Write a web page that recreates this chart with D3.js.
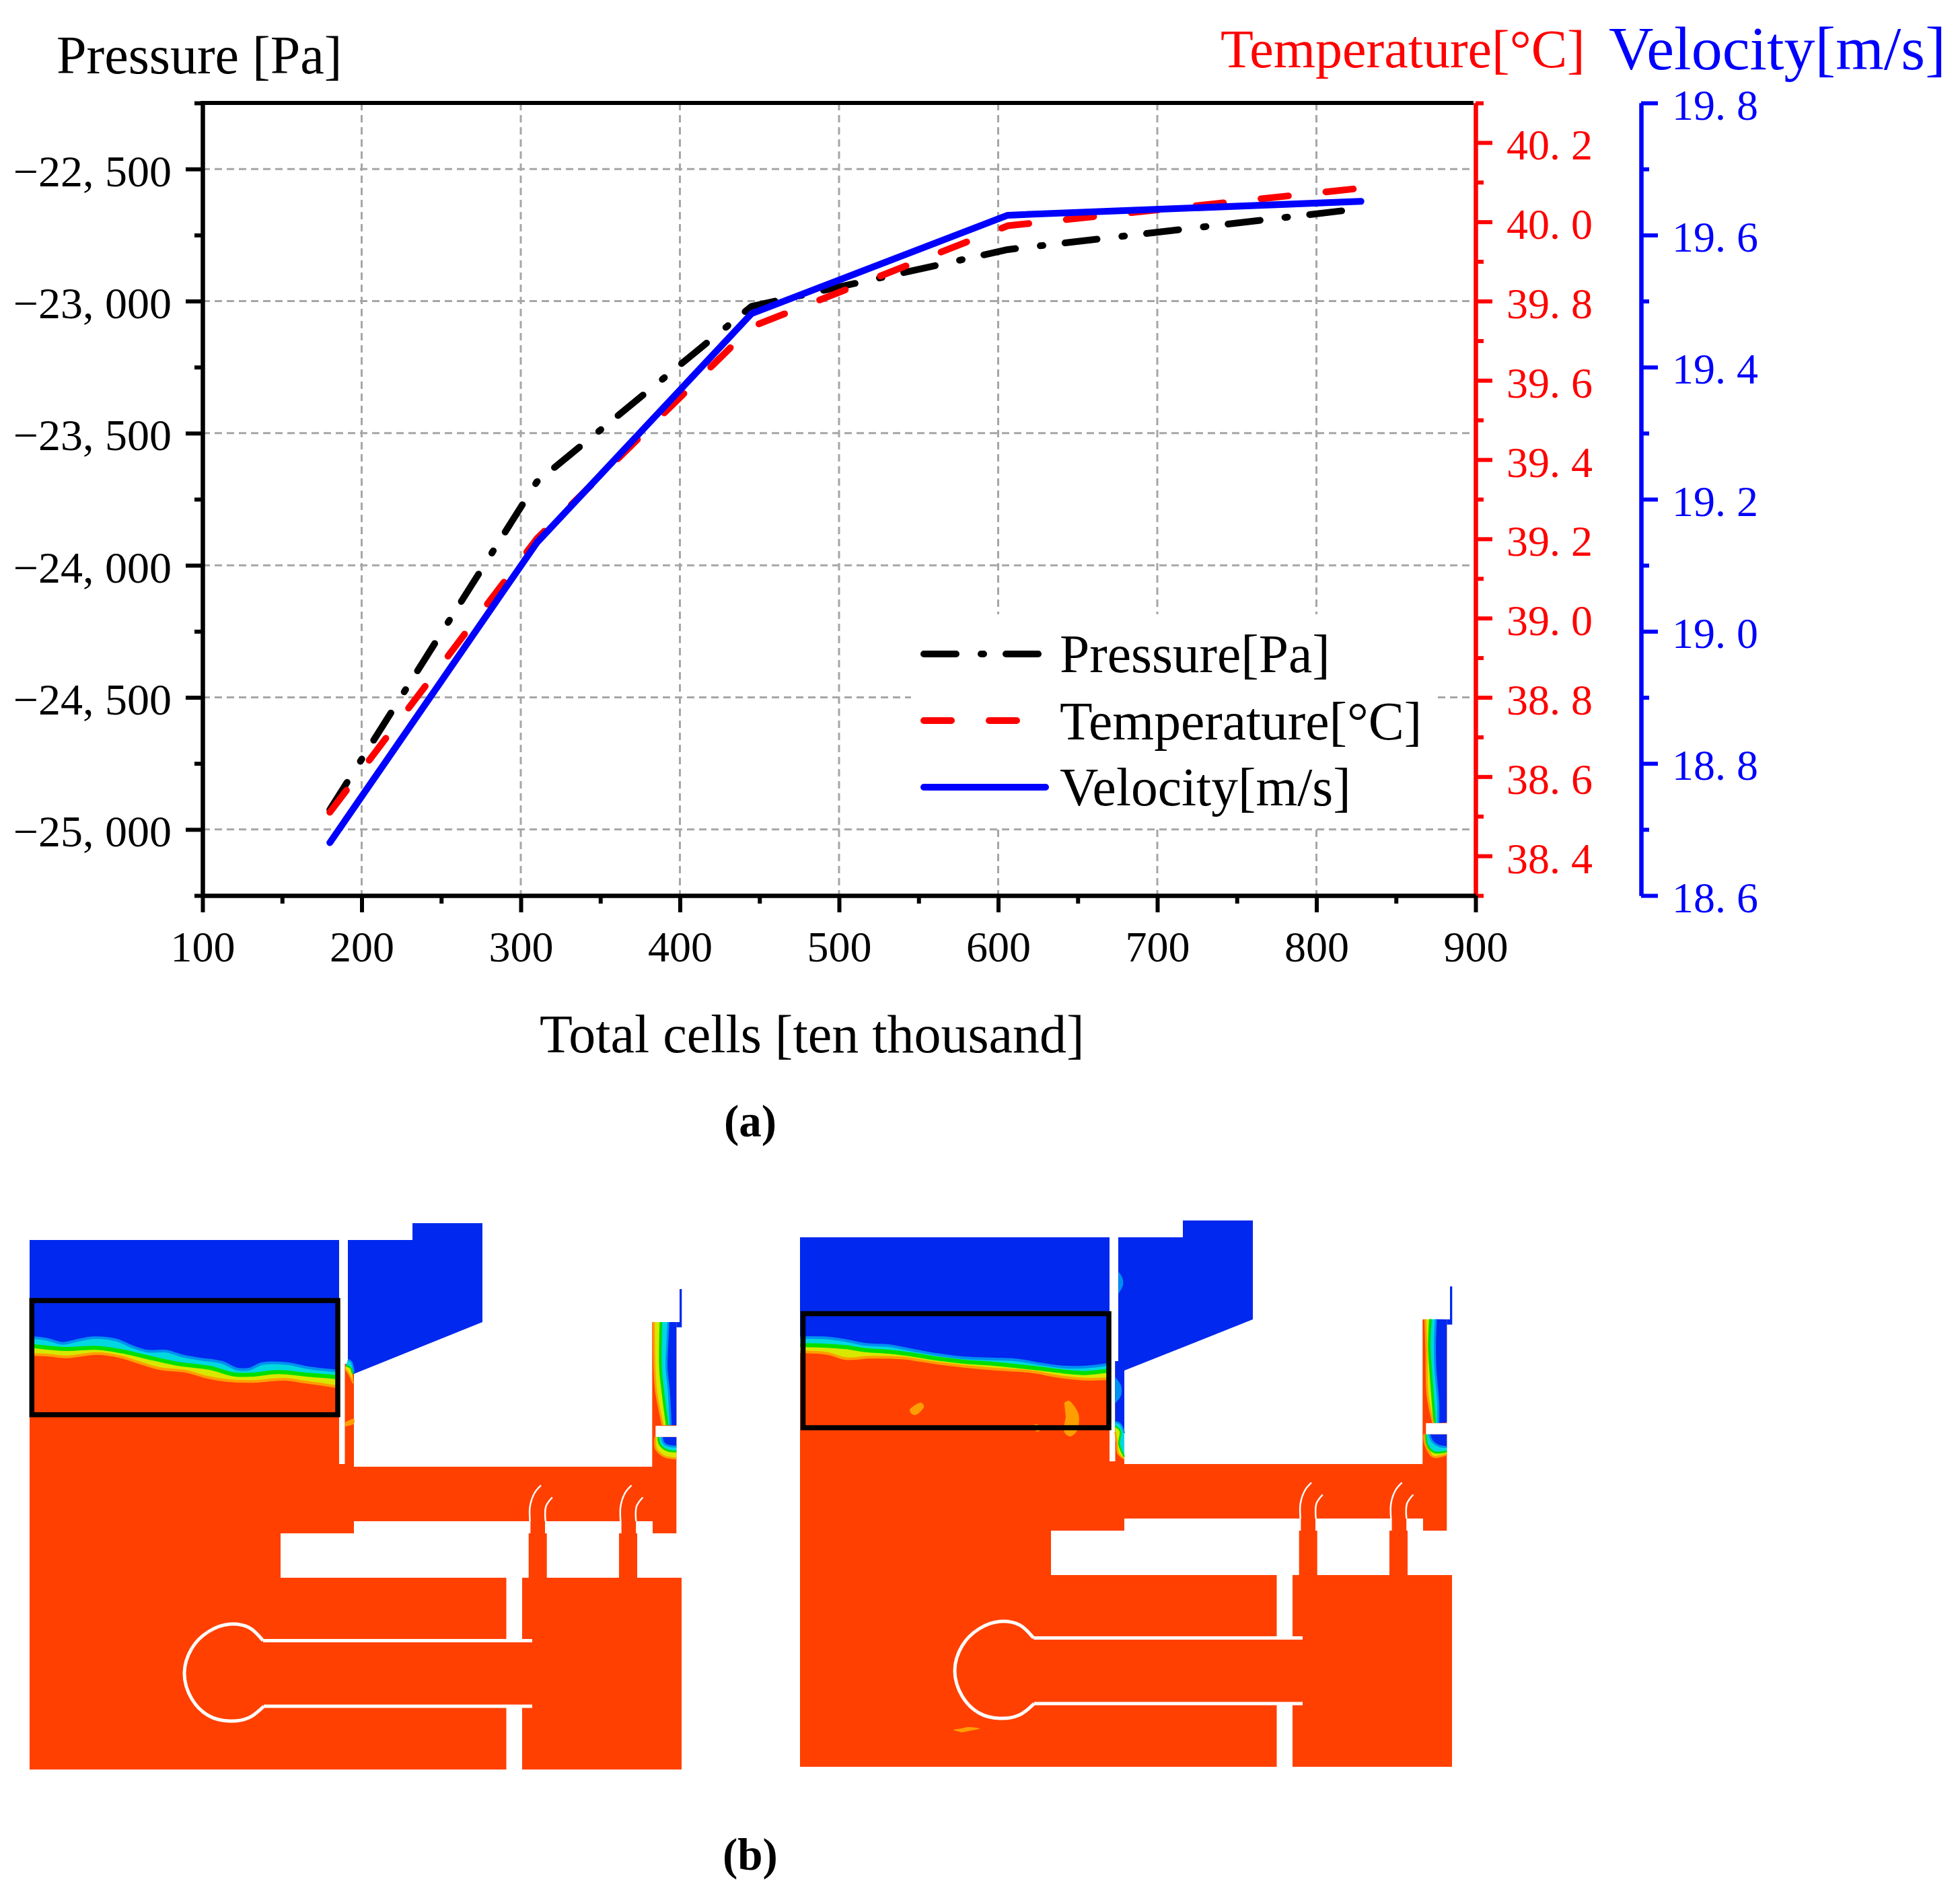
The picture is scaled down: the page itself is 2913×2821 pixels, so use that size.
<!DOCTYPE html>
<html>
<head>
<meta charset="utf-8">
<script src="https://cdnjs.cloudflare.com/ajax/libs/d3/7.8.5/d3.min.js"></script>
<style>
  html, body { margin: 0; background: #fff; }
  svg { display: block; }
  text { font-family: "Liberation Serif", serif; }
</style>
</head>
<body>
<div id="figure"></div>
<script>
// chart (a) values
var cells = [180, 310, 445, 606, 828];
var pressure = [-24925, -23685, -23020, -22805, -22650];
var temperature = [38.51, 39.2, 39.735, 39.99, 40.085];
var velocity = [18.68, 19.134, 19.481, 19.63, 19.651];

var cellTicks = [100, 200, 300, 400, 500, 600, 700, 800, 900];
var cellMinor = [150, 250, 350, 450, 550, 650, 750, 850];
var pressureTicks = [-25000, -24500, -24000, -23500, -23000, -22500];
var pressureLabels = ["\u221225, 000", "\u221224, 500", "\u221224, 000", "\u221223, 500", "\u221223, 000", "\u221222, 500"];
var pressureMinor = [-25250, -24750, -24250, -23750, -23250, -22750, -22250];
var tempTicks = [38.4, 38.6, 38.8, 39.0, 39.2, 39.4, 39.6, 39.8, 40.0, 40.2];
var tempLabels = ["38. 4", "38. 6", "38. 8", "39. 0", "39. 2", "39. 4", "39. 6", "39. 8", "40. 0", "40. 2"];
var tempMinor = [38.3, 38.5, 38.7, 38.9, 39.1, 39.3, 39.5, 39.7, 39.9, 40.1, 40.3];
var velTicks = [18.6, 18.8, 19.0, 19.2, 19.4, 19.6, 19.8];
var velLabels = ["18. 6", "18. 8", "19. 0", "19. 2", "19. 4", "19. 6", "19. 8"];
var velMinor = [18.7, 18.9, 19.1, 19.3, 19.5, 19.7];

// contour panels (b), outlines in panel units
var fluidOutline = [[0,25],[460,25],[460,358],[468.5,358],[468.5,209],[482,209],[482,362],[925.3,362],[925.3,147],[961.3,147],[961.3,461],[926,461],[926,443],[482,443],[482,461],[373,461],[373,527],[708.5,527],[708.5,812],[0,812]];
var fluidRightBlock = [[732,527],[969,527],[969,812],[732,812]];
var fluidNeck = [[700,620],[740,620],[740,718],[700,718]];
var pillarOne = [[744.4,440],[766,440],[766,461],[768.7,461],[768.7,530],[741.7,530],[741.7,461],[744.4,461]];
var pillarTwo = [[879.6,440],[901.2,440],[901.2,461],[903,461],[903,530],[876,530],[876,461],[879.6,461]];
var channelGap = [[930.3,301.3],[963,301.3],[963,317.7],[930.3,317.7]];
var ductAir = [[961.3,147],[966,147],[966,98],[969.3,98],[969.3,154.7],[961.3,154.7]];
var upperAirA = [[473,25],[569,25],[569,0],[673,0],[673,147],[482,224],[478,222],[473,204]];
var upperAirB = [[473,25],[569,25],[569,0],[673,0],[673,147],[482,223],[482,349],[468.3,320],[468.3,209],[473,209]];

var bulbLine = [[347,620.5],[326,601],[297,596],[266,607],[241,632],[230,669],[241,707],[266,732],[297,740],[326,735],[348,718]];
var pipeTop = [[347,620.5],[747,620.5]];
var pipeBottom = [[348,718],[747,718]];
var bendOuter = [[743.7,443],[743.7,421],[750.5,401],[760,389.7]];
var bendInner = [[766.7,443],[767.4,421],[776.8,407.5]];
var bendOuter2 = [[878.3,443],[878.3,421],[885,401],[894.6,389.7]];
var bendInner2 = [[901.3,443],[902,421],[911.4,407.5]];

var surfaceBlueA = [[0,170.3],[7,170.3],[26,172.7],[49,178.7],[69,174.7],[96,170.3],[129,173.7],[153,183.7],[176,190.3],[203,190.3],[226,197],[253,202],[286,207],[309,217],[326,217],[346,208.7],[383,208.7],[416,215.3],[454,219.3],[460,220]];
var surfaceGreenA = [[0,182],[53,187],[99,185.3],[136,190.3],[173,198.7],[219,208.7],[269,215.3],[303,224.7],[329,225.3],[369,221.3],[413,225.3],[454,228.7],[460,230]];
var surfaceRedA = [[0,195.3],[26,196],[56,198.7],[99,193.7],[136,198.7],[159,206],[193,216],[233,220.3],[263,228.7],[293,233.7],[329,235.3],[379,232],[409,236],[454,242.7],[460,244]];

var surfaceBlueB = [[0,174.3],[34.3,174.3],[64.3,177.7],[97.7,184.3],[131,186],[167.7,192.7],[204.3,199.3],[244.3,204.3],[291,206],[324.3,207.7],[357.7,213.3],[391,217.7],[424.3,217.7],[455,214.3],[460,213.3]];
var surfaceGreenB = [[0,185.3],[34.3,186],[67.7,188.3],[97.7,192.7],[134.3,195.3],[171,200],[204.3,205.3],[244.3,210],[291,213.3],[324.3,216.7],[357.7,220.3],[394.3,224.7],[424.3,226.7],[455,223.7],[460,223.3]];
var surfaceRedB = [[0,195.3],[41,197.7],[67.7,205.3],[104.3,203.3],[151,204.3],[204.3,212],[244.3,216.7],[291,221],[341,224.3],[391,232.7],[431,236],[455,235.3],[460,235.3]];

var wallBlueA = [[949.3,147],[947.7,182],[946.7,215.3],[950,248.7],[952.7,300.3]];
var wallGreenA = [[938.3,147],[937.7,215.3],[941,248.7],[947.7,300.3]];
var wallRedA = [[927.7,147],[928.7,215.3],[931,248.7],[941,300.3]];
var pocketBlueA = [[939.7,317.7],[942.7,327],[951,331.3],[961.3,332]];
var pocketGreenA = [[934.3,317.7],[936.7,328.7],[947.7,337.7],[961.3,339.3]];
var pocketRedA = [[930,317.7],[931,335.3],[942.7,346.3],[961.3,349.7]];
var slotBlueA = [[473,203],[478,206],[482,222]];
var slotGreenA = [[470,212],[477,215],[480,224]];
var slotRedA = [[469,216],[475,225],[481,238]];

var wallBlueB = [[945,146.7],[943.6,186],[944.3,219.3],[948.6,272.7],[948.6,301]];
var wallGreenB = [[937,146.7],[935.3,186],[938.3,236],[943.3,301]];
var wallRedB = [[929.3,146.7],[931,192.7],[932.6,259.3],[941,301]];
var pocketBlueB = [[935,317.7],[939.3,327.7],[949.3,335],[961.3,336.7]];
var pocketGreenB = [[930,317.7],[932.6,334.3],[942.6,344.3],[961.3,343.3]];
var pocketRedB = [[927.6,317.7],[929.3,332.7],[941,351],[961.3,347.7]];
var slotBlueB = [[468.3,299.3],[476,302.7],[482,316]];
var slotGreenB = [[468.3,306],[476,312.7],[474.3,332.7],[482,351]];
var slotRedB = [[468.3,314.3],[471,329.3],[472.7,346],[482,354.3]];

var warmSpotsA = [[[469,296],[482,291],[482,298],[469,302]]];
var warmSpotsB = [
  [[162.7,281],[171,274.3],[180.3,271],[184.3,276.7],[171,289.3],[164.3,286]],
  [[392.7,271],[399.3,267.7],[407.7,276],[414.3,289.3],[413.7,306],[409.3,316],[401,321],[392.7,314.3],[395,292.7]],
  [[346,304.3],[352.7,302.7],[356,312.7],[351,313.7]],
  [[226.7,757],[240,755],[250,753],[267,755],[250,759],[240,761]]
];
var coolSpotsB = [
  [[473.3,76],[479,85],[480,96],[473.3,109]],
  [[468.3,232.7],[477,245],[477,260],[470,270],[468.3,272]]
];
var frameA = [[3.3,115],[458,284.7]];
var frameB = [[4.5,138.5],[459,308]];

var svgWidth = 2913;
var svgHeight = 2821;

var BLACK = "#000000", RED = "#ff0000", BLUE = "#0000ff";
var AIR = "#0028ee", WATER = "#ff4000";

var svg = d3.select("#figure")
  .append("svg")
  .attr("width", svgWidth)
  .attr("height", svgHeight);

// Scales for the line chart
var plotLeft = 301, plotRight = 2193, plotTop = 153, plotBottom = 1331;

var xScale = d3.scaleLinear().domain([100, 900]).range([plotLeft, plotRight]);
var yPressure = d3.scaleLinear().domain([-25250, -22250]).range([plotBottom, plotTop]);
var yTemp = d3.scaleLinear().domain([38.3, 40.3]).range([plotBottom, plotTop]);
var yVel = d3.scaleLinear().domain([18.6, 19.8]).range([plotBottom, plotTop]);

// Grid
var grid = svg.append("g")
  .attr("stroke", "#a6a6a6")
  .attr("stroke-width", 3)
  .attr("stroke-dasharray", "11,7");

grid.selectAll("line.v")
  .data(cellTicks.slice(1, -1))
  .enter()
  .append("line")
  .attr("x1", d => xScale(d))
  .attr("x2", d => xScale(d))
  .attr("y1", plotTop)
  .attr("y2", plotBottom);

grid.selectAll("line.h")
  .data(pressureTicks)
  .enter()
  .append("line")
  .attr("x1", plotLeft)
  .attr("x2", plotRight)
  .attr("y1", d => yPressure(d))
  .attr("y2", d => yPressure(d));

// legend background hides the grid
svg.append("rect")
  .attr("x", 1354)
  .attr("y", 913)
  .attr("width", 781)
  .attr("height", 315)
  .attr("fill", "#fff");

// Series
function addSeries(values, yScale, color, dash) {
  var line = d3.line()
    .x((d, i) => xScale(cells[i]))
    .y(d => yScale(d));
  svg.append("path")
    .attr("d", line(values))
    .attr("fill", "none")
    .attr("stroke", color)
    .attr("stroke-width", 10)
    .attr("stroke-linecap", "round")
    .attr("stroke-linejoin", "round")
    .attr("stroke-dasharray", dash);
}
var PRESSURE_DASH = "48,37,4,33";
var TEMP_DASH = "41,56";
addSeries(pressure, yPressure, BLACK, PRESSURE_DASH);
addSeries(temperature, yTemp, RED, TEMP_DASH);
addSeries(velocity, yVel, BLUE, null);

// Axes
function styleAxis(g, color, size) {
  g.selectAll("path.domain").attr("stroke", color).attr("stroke-width", 6);
  g.selectAll("line").attr("stroke", color).attr("stroke-width", 6);
  g.selectAll("text")
    .attr("fill", color)
    .style("font-size", size + "px")
    .style("font-family", "'Liberation Serif', serif");
}

function addAxis(axisFn, scale, ticks, labels, minor, color, transform, dy, size) {
  var minorG = svg.append("g")
    .attr("transform", transform)
    .call(axisFn(scale).tickValues(minor).tickSize(12).tickSizeOuter(0).tickFormat(""));
  styleAxis(minorG, color, size);

  var majorG = svg.append("g")
    .attr("transform", transform)
    .call(axisFn(scale).tickValues(ticks).tickSize(25).tickSizeOuter(0).tickPadding(21)
      .tickFormat((d, i) => labels[i]));
  styleAxis(majorG, color, size);
  majorG.selectAll("text").attr("dy", dy);
  return majorG;
}

addAxis(d3.axisLeft, yPressure, pressureTicks, pressureLabels, pressureMinor, BLACK, `translate(${plotLeft},0)`, "25px", 66);
addAxis(d3.axisRight, yTemp, tempTicks, tempLabels, tempMinor, RED, `translate(${plotRight},0)`, "25px", 64);
addAxis(d3.axisRight, yVel, velTicks, velLabels, velMinor, BLUE, "translate(2439,0)", "24px", 64);

var xAxisG = addAxis(d3.axisBottom, xScale, cellTicks, cellTicks.map(String), cellMinor, BLACK, `translate(0,${plotBottom})`, "0px", 64);
xAxisG.selectAll("text").attr("y", 98);

// top frame line
svg.append("line")
  .attr("x1", plotLeft - 3)
  .attr("x2", plotRight - 3)
  .attr("y1", plotTop)
  .attr("y2", plotTop)
  .attr("stroke", BLACK)
  .attr("stroke-width", 6);

// Titles
function addText(x, y, str, size, color, anchor, weight) {
  svg.append("text")
    .attr("x", x)
    .attr("y", y)
    .attr("fill", color)
    .attr("text-anchor", anchor || "start")
    .attr("font-weight", weight || "normal")
    .style("font-size", size + "px")
    .text(str);
}
addText(84, 109, "Pressure [Pa]", 80, BLACK);
addText(1814, 100, "Temperature[\u00b0C]", 80, RED);
addText(2391, 103, "Velocity[m/s]", 92, BLUE);
addText(802, 1564, "Total cells [ten thousand]", 80, BLACK);
addText(1115, 1689, "(a)", 67, BLACK, "middle", "bold");
addText(1115, 2779, "(b)", 67, BLACK, "middle", "bold");

// Legend
var legendItems = [
  {name: "Pressure[Pa]", color: BLACK, dash: PRESSURE_DASH, x2: 1548, y: 972, textY: 999},
  {name: "Temperature[\u00b0C]", color: RED, dash: TEMP_DASH, x2: 1514, y: 1071, textY: 1099},
  {name: "Velocity[m/s]", color: BLUE, dash: null, x2: 1554, y: 1170, textY: 1197}
];
legendItems.forEach(function(item) {
  svg.append("line")
    .attr("x1", 1373)
    .attr("x2", item.x2)
    .attr("y1", item.y)
    .attr("y2", item.y)
    .attr("stroke", item.color)
    .attr("stroke-width", 10)
    .attr("stroke-linecap", "round")
    .attr("stroke-dasharray", item.dash);
  addText(1575, item.textY, item.name, 79.5, BLACK);
});

// Contour panels
function drawPanel(originX, originY, parts) {
  var px = d3.scaleLinear().domain([0, 969]).range([originX, originX + 969]);
  var py = d3.scaleLinear().domain([0, 812]).range([originY, originY + 812]);
  var g = svg.append("g");
  var line = d3.line().x(d => px(d[0])).y(d => py(d[1]));
  var smooth = d3.line().x(d => px(d[0])).y(d => py(d[1])).curve(d3.curveCatmullRom);

  function poly(points, fill) {
    g.append("path").attr("d", line(points) + "Z").attr("fill", fill);
  }
  function blob(points, fill) {
    g.append("path").attr("d", smooth(points) + "Z").attr("fill", fill);
  }
  function edge(points, color, width) {
    g.append("path")
      .attr("d", smooth(points))
      .attr("fill", "none")
      .attr("stroke", color)
      .attr("stroke-width", width);
  }
  // band colours run blue, cyan, green, yellow, orange, red across three read edges
  function contour(blueEdge, greenEdge, redEdge, w, greenW) {
    poly(blueEdge.concat(greenEdge.slice().reverse()), "#00d8e0");
    poly(greenEdge.concat(redEdge.slice().reverse()), "#d8e800");
    edge(blueEdge, "#0090f0", w);
    edge(greenEdge, "#00e000", greenW);
    edge(redEdge, "#ff9e00", w);
  }

  // fluid body
  [fluidOutline, fluidRightBlock, fluidNeck, pillarOne, pillarTwo].forEach(p => poly(p, WATER));

  // air regions
  poly([[0, 25], [460, 25]].concat(parts.surfaceBlue.slice().reverse()), AIR);
  poly(parts.upperAir, AIR);
  poly(ductAir, AIR);
  poly(parts.wallBlue.concat([[961.3, 300.3], [961.3, 147]]), AIR);
  poly(parts.pocketBlue.concat([[961.3, 317.7]]), AIR);

  contour(parts.surfaceBlue, parts.surfaceGreen, parts.surfaceRed, 4, 6);
  contour(parts.wallBlue, parts.wallGreen, parts.wallRed, 3, 4);
  contour(parts.pocketBlue, parts.pocketGreen, parts.pocketRed, 3, 3);
  contour(parts.slotBlue, parts.slotGreen, parts.slotRed, 2.5, 2.5);

  parts.warmSpots.forEach(p => blob(p, "#ff9e00"));
  parts.coolSpots.forEach(p => blob(p, "#0090f0"));

  poly(channelGap, "#fff");

  // white walls inside the fluid
  edge(bulbLine, "#fff", 5);
  [pipeTop, pipeBottom].forEach(p => {
    g.append("path").attr("d", line(p)).attr("stroke", "#fff").attr("stroke-width", 5);
  });
  [bendOuter, bendInner, bendOuter2, bendInner2].forEach(p => edge(p, "#fff", 2.5));

  // comparison frame
  g.append("rect")
    .attr("x", px(parts.frame[0][0]))
    .attr("y", py(parts.frame[0][1]))
    .attr("width", px(parts.frame[1][0]) - px(parts.frame[0][0]))
    .attr("height", py(parts.frame[1][1]) - py(parts.frame[0][1]))
    .attr("fill", "none")
    .attr("stroke", BLACK)
    .attr("stroke-width", 7.5);
}

drawPanel(44, 1818, {
  upperAir: upperAirA, surfaceBlue: surfaceBlueA, surfaceGreen: surfaceGreenA, surfaceRed: surfaceRedA,
  wallBlue: wallBlueA, wallGreen: wallGreenA, wallRed: wallRedA,
  pocketBlue: pocketBlueA, pocketGreen: pocketGreenA, pocketRed: pocketRedA,
  slotBlue: slotBlueA, slotGreen: slotGreenA, slotRed: slotRedA,
  warmSpots: warmSpotsA, coolSpots: [], frame: frameA
});

drawPanel(1189, 1814, {
  upperAir: upperAirB, surfaceBlue: surfaceBlueB, surfaceGreen: surfaceGreenB, surfaceRed: surfaceRedB,
  wallBlue: wallBlueB, wallGreen: wallGreenB, wallRed: wallRedB,
  pocketBlue: pocketBlueB, pocketGreen: pocketGreenB, pocketRed: pocketRedB,
  slotBlue: slotBlueB, slotGreen: slotGreenB, slotRed: slotRedB,
  warmSpots: warmSpotsB, coolSpots: coolSpotsB, frame: frameB
});
</script>
</body>
</html>
